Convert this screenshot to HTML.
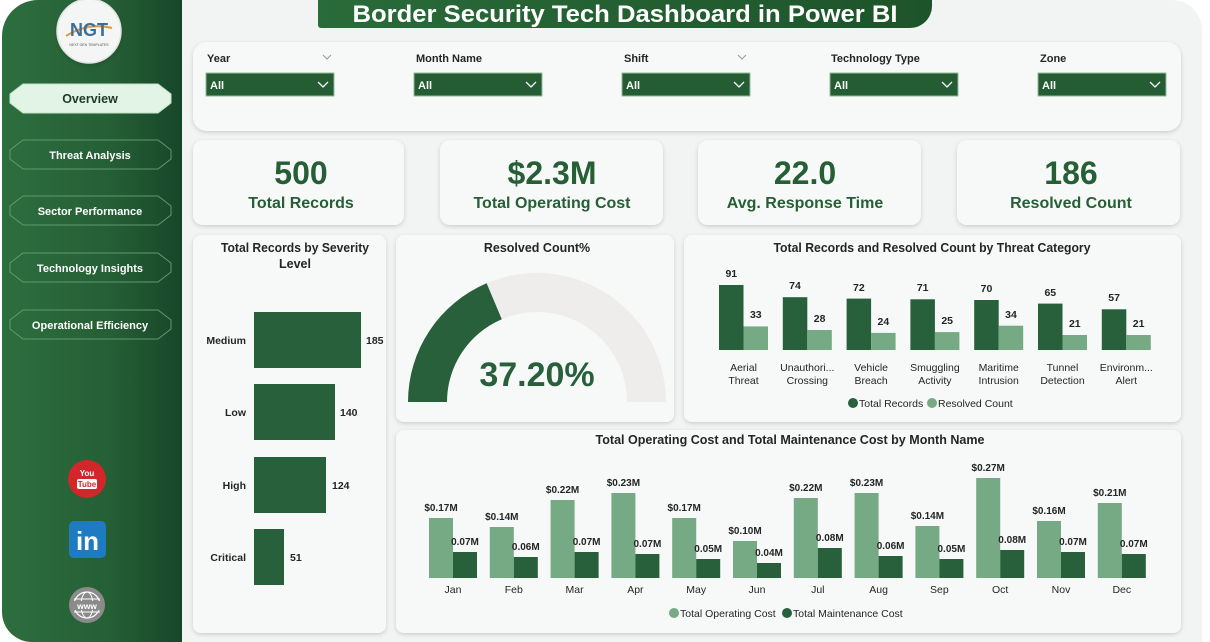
<!DOCTYPE html>
<html><head><meta charset="utf-8"><style>
html,body{margin:0;padding:0;background:#fff;}
svg{display:block;font-family:"Liberation Sans",Arial,sans-serif;}
</style></head><body>
<svg width="1210" height="642" viewBox="0 0 1210 642" xmlns="http://www.w3.org/2000/svg">
<defs>
<linearGradient id="sb" x1="0" y1="0" x2="1" y2="0">
<stop offset="0" stop-color="#2d6e3e"/><stop offset="0.6" stop-color="#255f35"/><stop offset="1" stop-color="#18462a"/>
</linearGradient>
<linearGradient id="tb" x1="0" y1="0" x2="1" y2="0">
<stop offset="0" stop-color="#2a6b3a"/><stop offset="1" stop-color="#1d5429"/>
</linearGradient>
<filter id="sh" x="-5%" y="-5%" width="110%" height="115%">
<feDropShadow dx="0" dy="1.5" stdDeviation="2" flood-color="#000" flood-opacity="0.16"/>
</filter>
</defs>

<!-- main background -->
<path d="M182,0 L1172,0 A30,30 0 0 1 1202,30 L1202,642 L182,642 Z" fill="#f2f3f3"/>

<!-- sidebar -->
<path d="M38,0 L182,0 L182,642 L32,642 A30,30 0 0 1 2,612 L2,36 A36,36 0 0 1 38,0 Z" fill="url(#sb)"/>

<!-- logo -->
<circle cx="89" cy="31" r="32" fill="#f4f6f5" stroke="#dfe3e0" stroke-width="1.5" filter="url(#sh)"/>
<path d="M66,36 Q88,22 112,28" stroke="#e59a3a" stroke-width="2" fill="none"/>
<text x="89" y="36" text-anchor="middle" font-size="18" font-weight="bold" fill="#3b6e98">NGT</text>
<text x="89" y="46" text-anchor="middle" font-size="3.5" fill="#555">NEXT GEN TEMPLATES</text>

<!-- nav buttons -->
<path d="M23,84 L158,84 L171,94 L171,103 L158,113 L23,113 L10,103 L10,94 Z" fill="#e2f4e6" stroke="#c2e2c9" stroke-width="1"/>
<text x="90" y="103" text-anchor="middle" font-size="12.5" font-weight="bold" fill="#1e3a26">Overview</text>

<g fill="none" stroke="#5e9a6c" stroke-width="1">
<path d="M23,140 L158,140 L171,150 L171,159 L158,169 L23,169 L10,159 L10,150 Z"/>
<path d="M23,196 L158,196 L171,206 L171,215 L158,225 L23,225 L10,215 L10,206 Z"/>
<path d="M23,253 L158,253 L171,263 L171,272 L158,282 L23,282 L10,272 L10,263 Z"/>
<path d="M23,310 L158,310 L171,320 L171,329 L158,339 L23,339 L10,329 L10,320 Z"/>
</g>
<g font-size="11" font-weight="bold" fill="#ffffff" text-anchor="middle">
<text x="90" y="159">Threat Analysis</text>
<text x="90" y="215">Sector Performance</text>
<text x="90" y="272">Technology Insights</text>
<text x="90" y="329">Operational Efficiency</text>
</g>

<!-- social icons -->
<circle cx="87" cy="479" r="19" fill="#d3262b"/>
<text x="87" y="476" text-anchor="middle" font-size="8" font-weight="bold" fill="#fff">You</text>
<rect x="77" y="479" width="20" height="10" rx="2" fill="#fff"/>
<text x="87" y="487" text-anchor="middle" font-size="8" font-weight="bold" fill="#d3262b">Tube</text>

<rect x="69" y="521" width="37" height="37" rx="5" fill="#1f7bc1"/>
<text x="87.5" y="550" text-anchor="middle" font-size="26" font-weight="bold" fill="#fff">in</text>

<circle cx="87" cy="605" r="18" fill="#8b8b8b"/>
<circle cx="87" cy="605" r="13" fill="none" stroke="#fff" stroke-width="1.2"/>
<ellipse cx="87" cy="605" rx="6" ry="13" fill="none" stroke="#fff" stroke-width="1"/>
<line x1="74" y1="599" x2="100" y2="599" stroke="#fff" stroke-width="1"/>
<line x1="74" y1="612" x2="100" y2="612" stroke="#fff" stroke-width="1"/>
<rect x="71" y="601" width="32" height="9" fill="#8b8b8b"/>
<text x="87" y="609" text-anchor="middle" font-size="8.5" font-weight="bold" fill="#fff">www</text>

<!-- title banner -->
<path d="M318,0 L932,0 L932,6 A22,22 0 0 1 910,28 L321,28 A3,3 0 0 1 318,25 Z" fill="url(#tb)"/>
<text x="625" y="22" text-anchor="middle" font-size="24" font-weight="bold" fill="#ffffff" textLength="545" lengthAdjust="spacingAndGlyphs">Border Security Tech Dashboard in Power BI</text>

<!-- filter panel -->
<rect x="193" y="42" width="988" height="89" rx="14" fill="#f7f8f8" filter="url(#sh)"/>
<g font-size="11" font-weight="bold" fill="#252525">
<text x="207" y="62">Year</text>
<text x="416" y="62">Month Name</text>
<text x="624" y="62">Shift</text>
<text x="831" y="62">Technology Type</text>
<text x="1040" y="62">Zone</text>
</g>
<g fill="none" stroke="#9a9a9a" stroke-width="1">
<path d="M323,55 L327,59 L331,55"/>
<path d="M738,55 L742,59 L746,55"/>
</g>
<g>
<rect x="206" y="73" width="128" height="23" fill="#245c33" stroke="#8fbd98" stroke-width="1"/>
<rect x="414" y="73" width="128" height="23" fill="#245c33" stroke="#8fbd98" stroke-width="1"/>
<rect x="622" y="73" width="128" height="23" fill="#245c33" stroke="#8fbd98" stroke-width="1"/>
<rect x="830" y="73" width="128" height="23" fill="#245c33" stroke="#8fbd98" stroke-width="1"/>
<rect x="1038" y="73" width="128" height="23" fill="#245c33" stroke="#8fbd98" stroke-width="1"/>
</g>
<g font-size="11" font-weight="bold" fill="#ffffff">
<text x="210" y="89">All</text>
<text x="418" y="89">All</text>
<text x="626" y="89">All</text>
<text x="834" y="89">All</text>
<text x="1042" y="89">All</text>
</g>
<g fill="none" stroke="#ffffff" stroke-width="1.3">
<path d="M318,82 L323,87 L328,82"/>
<path d="M526,82 L531,87 L536,82"/>
<path d="M734,82 L739,87 L744,82"/>
<path d="M942,82 L947,87 L952,82"/>
<path d="M1150,82 L1155,87 L1160,82"/>
</g>

<!-- KPI cards -->
<g fill="#f7f8f8" filter="url(#sh)">
<rect x="193" y="140" width="211" height="85" rx="10"/>
<rect x="440" y="140" width="223" height="85" rx="10"/>
<rect x="698" y="140" width="223" height="85" rx="10"/>
<rect x="957" y="140" width="223" height="85" rx="10"/>
</g>
<g fill="#265e35" font-weight="bold" text-anchor="middle">
<text x="301" y="184" font-size="32">500</text>
<text x="301" y="208" font-size="16">Total Records</text>
<text x="552" y="184" font-size="32">$2.3M</text>
<text x="552" y="208" font-size="16">Total Operating Cost</text>
<text x="805" y="184" font-size="32">22.0</text>
<text x="805" y="208" font-size="16">Avg. Response Time</text>
<text x="1071" y="184" font-size="32">186</text>
<text x="1071" y="208" font-size="16">Resolved Count</text>
</g>

<!-- chart cards -->
<g fill="#f7f8f8" filter="url(#sh)">
<rect x="193" y="235" width="193" height="398" rx="8"/>
<rect x="396" y="235" width="278" height="187" rx="8"/>
<rect x="684" y="235" width="497" height="187" rx="8"/>
<rect x="396" y="430" width="785" height="203" rx="8"/>
</g>

<!-- Severity chart -->
<g font-size="12.5" font-weight="bold" fill="#252525" text-anchor="middle">
<text x="295" y="252" textLength="148" lengthAdjust="spacingAndGlyphs">Total Records by Severity</text>
<text x="295" y="268">Level</text>
</g>
<g fill="#27603a">
<rect x="254" y="312" width="107" height="56"/>
<rect x="254" y="384" width="81" height="56"/>
<rect x="254" y="457" width="72" height="56"/>
<rect x="254" y="529" width="30" height="56"/>
</g>
<g font-size="10.5" font-weight="bold" fill="#252525" text-anchor="end">
<text x="246" y="344">Medium</text>
<text x="246" y="416">Low</text>
<text x="246" y="489">High</text>
<text x="246" y="561">Critical</text>
</g>
<g font-size="10.5" font-weight="bold" fill="#252525">
<text x="366" y="344">185</text>
<text x="340" y="416">140</text>
<text x="332" y="489">124</text>
<text x="290" y="561">51</text>
</g>

<!-- Gauge -->
<text x="537" y="252" text-anchor="middle" font-size="12.5" font-weight="bold" fill="#252525">Resolved Count%</text>
<path d="M408,402 A129,129 0 0 1 666,402 L627,402 A90,90 0 0 0 447,402 Z" fill="#eeedeb"/>
<path d="M408,402 A129,129 0 0 1 486.6,283.3 L501.8,319.2 A90,90 0 0 0 447,402 Z" fill="#27603a"/>
<text x="537" y="386" text-anchor="middle" font-size="34" font-weight="bold" fill="#27603a">37.20%</text>

<!-- Threat category chart -->
<text x="932" y="252" text-anchor="middle" font-size="12.5" font-weight="bold" fill="#252525" textLength="317" lengthAdjust="spacingAndGlyphs">Total Records and Resolved Count by Threat Category</text>
<g fill="#27603a">
<rect x="719" y="285" width="24.5" height="65"/>
<rect x="782.8" y="297.2" width="24.5" height="52.8"/>
<rect x="846.6" y="298.6" width="24.5" height="51.4"/>
<rect x="910.4" y="299.3" width="24.5" height="50.7"/>
<rect x="974.2" y="300" width="24.5" height="50"/>
<rect x="1038" y="303.6" width="24.5" height="46.4"/>
<rect x="1101.8" y="309.3" width="24.5" height="40.7"/>
</g>
<g fill="#76aa84">
<rect x="743.5" y="326.4" width="24.5" height="23.6"/>
<rect x="807.3" y="330" width="24.5" height="20"/>
<rect x="871.1" y="332.9" width="24.5" height="17.1"/>
<rect x="934.9" y="332.1" width="24.5" height="17.9"/>
<rect x="998.7" y="325.7" width="24.5" height="24.3"/>
<rect x="1062.5" y="335" width="24.5" height="15"/>
<rect x="1126.3" y="335" width="24.5" height="15"/>
</g>
<g font-size="10.5" font-weight="bold" fill="#252525" text-anchor="middle">
<text x="731.3" y="277">91</text>
<text x="755.8" y="318">33</text>
<text x="795" y="289">74</text>
<text x="819.6" y="322">28</text>
<text x="858.9" y="291">72</text>
<text x="883.4" y="325">24</text>
<text x="922.7" y="291">71</text>
<text x="947.2" y="324">25</text>
<text x="986.5" y="292">70</text>
<text x="1011" y="318">34</text>
<text x="1050.3" y="296">65</text>
<text x="1074.8" y="327">21</text>
<text x="1114.1" y="301">57</text>
<text x="1138.6" y="327">21</text>
</g>
<g font-size="10.5" fill="#252525" text-anchor="middle">
<text x="743.5" y="371">Aerial</text><text x="743.5" y="384">Threat</text>
<text x="807.3" y="371">Unauthori...</text><text x="807.3" y="384">Crossing</text>
<text x="871.1" y="371">Vehicle</text><text x="871.1" y="384">Breach</text>
<text x="934.9" y="371">Smuggling</text><text x="934.9" y="384">Activity</text>
<text x="998.7" y="371">Maritime</text><text x="998.7" y="384">Intrusion</text>
<text x="1062.5" y="371">Tunnel</text><text x="1062.5" y="384">Detection</text>
<text x="1126.3" y="371">Environm...</text><text x="1126.3" y="384">Alert</text>
</g>
<circle cx="853" cy="403" r="5" fill="#27603a"/>
<circle cx="932" cy="403" r="5" fill="#76aa84"/>
<g font-size="10.5" fill="#252525">
<text x="859" y="407">Total Records</text>
<text x="938" y="407">Resolved Count</text>
</g>

<!-- Monthly chart -->
<text x="790" y="444" text-anchor="middle" font-size="12.5" font-weight="bold" fill="#252525" textLength="389" lengthAdjust="spacingAndGlyphs">Total Operating Cost and Total Maintenance Cost by Month Name</text>
<g fill="#76aa84">
<rect x="429" y="518" width="24" height="60"/>
<rect x="489.8" y="527" width="24" height="51"/>
<rect x="550.6" y="500" width="24" height="78"/>
<rect x="611.4" y="493" width="24" height="85"/>
<rect x="672.2" y="518" width="24" height="60"/>
<rect x="733" y="541" width="24" height="37"/>
<rect x="793.8" y="498" width="24" height="80"/>
<rect x="854.6" y="493" width="24" height="85"/>
<rect x="915.4" y="526" width="24" height="52"/>
<rect x="976.2" y="478" width="24" height="100"/>
<rect x="1037" y="521" width="24" height="57"/>
<rect x="1097.8" y="503" width="24" height="75"/>
</g>
<g fill="#27603a">
<rect x="453" y="552" width="24" height="26"/>
<rect x="513.8" y="557" width="24" height="21"/>
<rect x="574.6" y="552" width="24" height="26"/>
<rect x="635.4" y="554" width="24" height="24"/>
<rect x="696.2" y="559" width="24" height="19"/>
<rect x="757" y="563" width="24" height="15"/>
<rect x="817.8" y="548" width="24" height="30"/>
<rect x="878.6" y="556" width="24" height="22"/>
<rect x="939.4" y="559" width="24" height="19"/>
<rect x="1000.2" y="550" width="24" height="28"/>
<rect x="1061" y="552" width="24" height="26"/>
<rect x="1121.8" y="554" width="24" height="24"/>
</g>
<g font-size="10" font-weight="bold" fill="#252525" text-anchor="middle">
<text x="441" y="511">$0.17M</text>
<text x="501.8" y="520">$0.14M</text>
<text x="562.6" y="493">$0.22M</text>
<text x="623.4" y="486">$0.23M</text>
<text x="684.2" y="511">$0.17M</text>
<text x="745" y="534">$0.10M</text>
<text x="805.8" y="491">$0.22M</text>
<text x="866.6" y="486">$0.23M</text>
<text x="927.4" y="519">$0.14M</text>
<text x="988.2" y="471">$0.27M</text>
<text x="1049" y="514">$0.16M</text>
<text x="1109.8" y="496">$0.21M</text>
<text x="465" y="545">0.07M</text>
<text x="525.8" y="550">0.06M</text>
<text x="586.6" y="545">0.07M</text>
<text x="647.4" y="547">0.07M</text>
<text x="708.2" y="552">0.05M</text>
<text x="769" y="556">0.04M</text>
<text x="829.8" y="541">0.08M</text>
<text x="890.6" y="549">0.06M</text>
<text x="951.4" y="552">0.05M</text>
<text x="1012.2" y="543">0.08M</text>
<text x="1073" y="545">0.07M</text>
<text x="1133.8" y="547">0.07M</text>
</g>
<g font-size="10.5" fill="#252525" text-anchor="middle">
<text x="453" y="593">Jan</text>
<text x="513.8" y="593">Feb</text>
<text x="574.6" y="593">Mar</text>
<text x="635.4" y="593">Apr</text>
<text x="696.2" y="593">May</text>
<text x="757" y="593">Jun</text>
<text x="817.8" y="593">Jul</text>
<text x="878.6" y="593">Aug</text>
<text x="939.4" y="593">Sep</text>
<text x="1000.2" y="593">Oct</text>
<text x="1061" y="593">Nov</text>
<text x="1121.8" y="593">Dec</text>
</g>
<circle cx="674" cy="613" r="5" fill="#76aa84"/>
<circle cx="787" cy="613" r="5" fill="#27603a"/>
<g font-size="10.5" fill="#252525">
<text x="680" y="617">Total Operating Cost</text>
<text x="793" y="617">Total Maintenance Cost</text>
</g>
</svg>
</body></html>
